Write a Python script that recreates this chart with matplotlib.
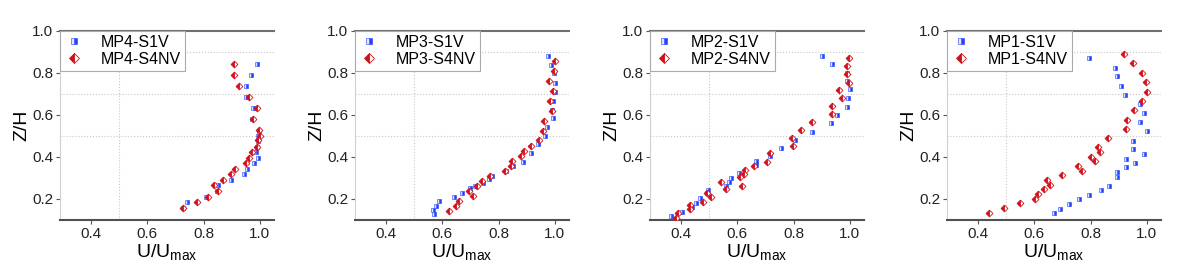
import matplotlib
matplotlib.use("Agg")
import matplotlib.pyplot as plt

plt.rcParams['font.family'] = ['Liberation Sans', 'DejaVu Sans']
plt.rcParams['mathtext.default'] = 'regular'

# MP4
mp4_s1v_u = [0.990, 0.968, 0.950, 0.950, 0.974, 0.973, 0.998, 0.992, 0.994, 0.990, 0.986,
             0.994, 0.979, 0.955, 0.943, 0.899, 0.850, 0.846, 0.808, 0.742, 0.728]
mp4_s1v_z = [0.842, 0.789, 0.737, 0.686, 0.631, 0.580, 0.520, 0.500, 0.474, 0.446, 0.425,
             0.396, 0.370, 0.343, 0.317, 0.290, 0.265, 0.240, 0.211, 0.186, 0.159]
mp4_s4nv_u = [0.908, 0.908, 0.925, 0.961, 0.990, 0.974, 0.998, 1.000, 0.994, 0.990, 0.973,
              0.962, 0.952, 0.911, 0.899, 0.870, 0.838, 0.852, 0.814, 0.777, 0.728]
mp4_s4nv_z = [0.842, 0.789, 0.737, 0.686, 0.631, 0.580, 0.528, 0.500, 0.478, 0.449, 0.425,
              0.396, 0.370, 0.343, 0.317, 0.290, 0.265, 0.240, 0.211, 0.186, 0.159]

# MP3
mp3_s1v_u = [0.976, 0.986, 0.996, 1.000, 1.000, 0.994, 0.989, 0.992, 0.973, 0.964, 0.941,
             0.914, 0.885, 0.852, 0.825, 0.775, 0.767, 0.743, 0.715, 0.700, 0.671, 0.641,
             0.589, 0.577, 0.566, 0.571]
mp3_s1v_z = [0.880, 0.835, 0.797, 0.750, 0.707, 0.666, 0.623, 0.584, 0.541, 0.500, 0.460,
             0.417, 0.376, 0.357, 0.335, 0.309, 0.294, 0.275, 0.262, 0.251, 0.230, 0.208,
             0.191, 0.167, 0.148, 0.128]
mp3_s4nv_u = [1.000, 0.998, 0.979, 0.992, 0.982, 0.990, 0.961, 0.956, 0.943, 0.914, 0.890,
              0.878, 0.848, 0.845, 0.822, 0.769, 0.740, 0.722, 0.695, 0.710, 0.660, 0.650,
              0.624]
mp3_s4nv_z = [0.856, 0.808, 0.762, 0.713, 0.667, 0.620, 0.571, 0.525, 0.479, 0.452, 0.428,
              0.406, 0.382, 0.357, 0.335, 0.309, 0.286, 0.262, 0.240, 0.213, 0.190, 0.168,
              0.145]

# MP2
mp2_s1v_u = [0.900, 0.938, 0.988, 0.991, 1.000, 0.994, 0.990, 0.953, 0.933, 0.865, 0.804,
             0.756, 0.715, 0.666, 0.665, 0.607, 0.578, 0.570, 0.561, 0.496, 0.494, 0.467,
             0.455, 0.438, 0.402, 0.365]
mp2_s1v_z = [0.881, 0.842, 0.797, 0.762, 0.721, 0.682, 0.639, 0.599, 0.560, 0.520, 0.480,
             0.441, 0.404, 0.382, 0.362, 0.322, 0.301, 0.282, 0.262, 0.243, 0.227, 0.203,
             0.180, 0.160, 0.140, 0.121]
mp2_s4nv_u = [0.998, 0.991, 0.988, 0.998, 0.962, 0.971, 0.936, 0.936, 0.865, 0.828, 0.795,
              0.797, 0.715, 0.705, 0.658, 0.627, 0.625, 0.611, 0.616, 0.543, 0.559, 0.505,
              0.491, 0.479, 0.432, 0.432, 0.388, 0.381]
mp2_s4nv_z = [0.869, 0.832, 0.793, 0.753, 0.718, 0.679, 0.642, 0.604, 0.566, 0.528, 0.491,
              0.452, 0.417, 0.377, 0.357, 0.338, 0.319, 0.303, 0.263, 0.282, 0.246, 0.208,
              0.227, 0.187, 0.172, 0.152, 0.132, 0.111]

# MP1
mp1_s1v_u = [0.794, 0.885, 0.893, 0.908, 0.923, 0.975, 0.988, 0.975, 1.000, 0.951, 0.951,
             0.988, 0.927, 0.958, 0.926, 0.894, 0.893, 0.865, 0.838, 0.796, 0.759, 0.724,
             0.693, 0.671]
mp1_s1v_z = [0.869, 0.824, 0.785, 0.739, 0.694, 0.652, 0.607, 0.566, 0.523, 0.477, 0.436,
             0.414, 0.392, 0.373, 0.351, 0.327, 0.306, 0.263, 0.243, 0.219, 0.199, 0.175,
             0.153, 0.132]
mp1_s4nv_u = [0.918, 0.952, 0.982, 0.998, 1.000, 0.982, 0.955, 0.929, 0.927, 0.861, 0.826,
              0.833, 0.802, 0.815, 0.755, 0.768, 0.699, 0.645, 0.655, 0.634, 0.612, 0.604,
              0.549, 0.492, 0.438]
mp1_s4nv_z = [0.889, 0.845, 0.797, 0.755, 0.710, 0.666, 0.622, 0.577, 0.533, 0.489, 0.446,
              0.425, 0.400, 0.379, 0.357, 0.335, 0.313, 0.290, 0.268, 0.246, 0.224, 0.202,
              0.180, 0.156, 0.135]

panels = [
    ("MP4", mp4_s1v_u, mp4_s1v_z, mp4_s4nv_u, mp4_s4nv_z),
    ("MP3", mp3_s1v_u, mp3_s1v_z, mp3_s4nv_u, mp3_s4nv_z),
    ("MP2", mp2_s1v_u, mp2_s1v_z, mp2_s4nv_u, mp2_s4nv_z),
    ("MP1", mp1_s1v_u, mp1_s1v_z, mp1_s4nv_u, mp1_s4nv_z),
]

blue = '#2040ff'
red = '#d0101a'

fig = plt.figure(figsize=(12, 2.77), dpi=100)
lefts = [60, 355, 650, 947]
for left, (name, bu, bz, ru, rz) in zip(lefts, panels):
    ax = fig.add_axes([left / 1200, 57 / 277, 214 / 1200, 189.3 / 277])
    ax.plot(bu, bz, linestyle='none', marker='s', markersize=3.3, fillstyle='right',
            color=blue, markerfacecoloralt='#dfe5ff', markeredgewidth=0.4,
            label=name + '-S1V', zorder=3)
    ax.plot(ru, rz, linestyle='none', marker='D', markersize=3.5, fillstyle='left',
            color=red, markerfacecoloralt='white', markeredgewidth=0.6,
            label=name + '-S4NV', zorder=3)
    ax.set_xlim(0.29, 1.05)
    ax.set_ylim(0.1, 1.0)
    ax.set_xticks([0.4, 0.6, 0.8, 1.0])
    ax.set_yticks([0.2, 0.4, 0.6, 0.8, 1.0])
    ax.set_xticks([0.5], minor=True)
    ax.set_yticks([0.5, 0.7, 0.9], minor=True)
    ax.grid(which='minor', linestyle=':', color='#c8c8c8', linewidth=0.8)
    ax.tick_params(which='minor', length=0)
    ax.tick_params(axis='both', which='major', labelsize=11, length=3, width=0.8,
                   color='#555555', labelcolor='#222222', pad=2)
    ax.set_xlabel('U/U$_{max}$', fontsize=14, labelpad=1)
    ax.set_ylabel('Z/H', fontsize=14, labelpad=1)
    ax.spines['right'].set_visible(False)
    ax.spines['left'].set_color('#d0d0d0')
    ax.spines['left'].set_linewidth(0.8)
    ax.spines['top'].set_color('#707070')
    ax.spines['top'].set_linewidth(1.5)
    ax.spines['bottom'].set_color('#505050')
    ax.spines['bottom'].set_linewidth(1.5)
    leg = ax.legend(loc='upper left', borderaxespad=0, fontsize=11.5, fancybox=False,
                    framealpha=1, edgecolor='#aaaaaa', handletextpad=1.0,
                    borderpad=0.25, labelspacing=0.15, handlelength=1.3,
                    markerscale=1.5)
    leg.get_frame().set_linewidth(0.8)

fig.savefig('out.png', dpi=100)
